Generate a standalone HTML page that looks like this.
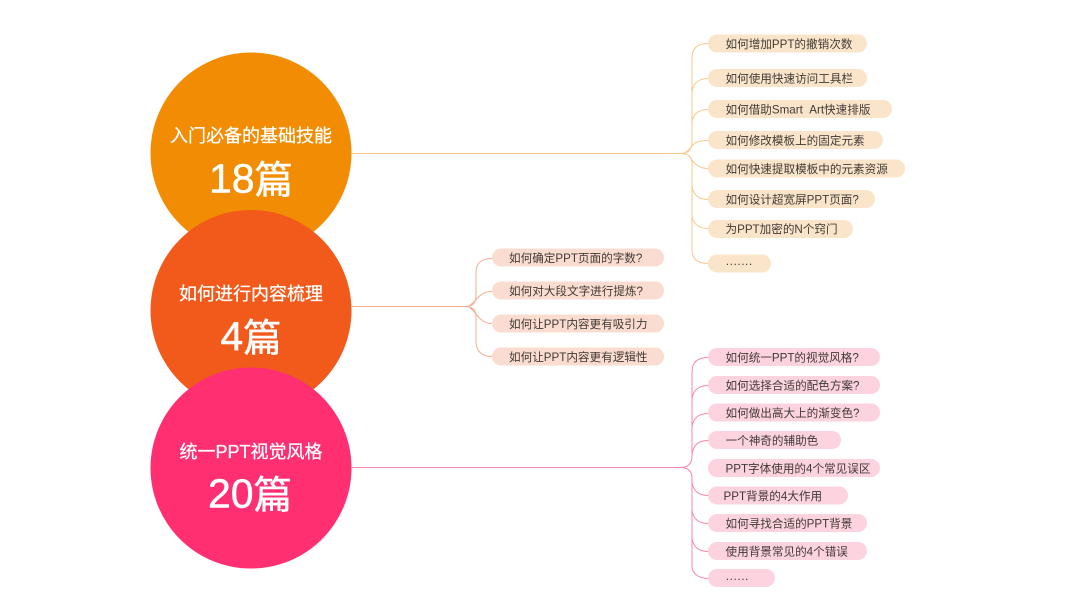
<!DOCTYPE html>
<html lang="zh">
<head>
<meta charset="utf-8">
<style>
html,body{margin:0;padding:0;background:#fff;}
svg{display:block;}
text{font-family:"Liberation Sans","Noto Sans CJK SC",sans-serif;}
.l{font-size:11.6px;fill:#403a35;}
.h{font-size:18px;fill:#fff;text-anchor:middle;stroke:#fff;stroke-width:.25px;}
.n{font-size:41px;fill:#fff;text-anchor:middle;stroke:#fff;stroke-width:.5px;}
.n tspan{font-size:38.500px;}
</style>
</head>
<body>
<svg width="1080" height="607" viewBox="0 0 1080 607" xmlns="http://www.w3.org/2000/svg">
<rect width="1080" height="607" fill="#fff"/>

<g fill="none" stroke="#f6c98a" stroke-width="1">
<path d="M352 153.500H680C688 153.500 692 150 692 142V58C692 48 698 43.500 708 43.500"/>
<path d="M692 92C693 83 699 78.500 708 78.500"/>
<path d="M692 122C693 114 699 109.500 708 109.500"/>
<path d="M683 153.500C690 151 691 146 695 143C699 141 703 140.500 708 140.500"/>
<path d="M680 153.500C688 153.500 692 157 692 163V250C692 259 698 263.500 708 263.500"/>
<path d="M689 155.500C692 160 696 168.500 708 168.500"/>
<path d="M692 186C693 195 699 199.500 708 199.500"/>
<path d="M692 216C693 224 699 228.500 708 228.500"/>
</g>
<g fill="none" stroke="#f2ac90" stroke-width="1">
<path d="M352 306.500H465C472 306.500 476 303 476 296V272C476 263 482 258.500 492 258.500"/>
<path d="M470 305C476 302 479 291.500 492 291.500"/>
<path d="M465 306.500C472 306.500 476 310 476 316V342C476 351 482 356.500 492 356.500"/>
<path d="M470 308C476 311 479 323.500 492 323.500"/>
</g>
<g fill="none" stroke="#f787ae" stroke-width="1">
<path d="M352 467.500H680C688 467.500 692 464 692 456V372C692 362 698 357.500 708 357.500"/>
<path d="M692 399C693 390 699 385.500 708 385.500"/>
<path d="M692 427C693 418 699 413.500 708 413.500"/>
<path d="M692 455C693 445 699 440.500 708 440.500"/>
<path d="M680 467.500C688 467.500 692 471 692 478V566C692 573 698 578.500 708 578.500"/>
<path d="M692 482C693 491 699 495.500 708 495.500"/>
<path d="M692 510C693 519 699 523.500 708 523.500"/>
<path d="M692 538C693 547 699 551.500 708 551.500"/>
</g>

<circle cx="251" cy="153" r="100.500" fill="#f28c02"/>
<circle cx="251" cy="310.500" r="100.500" fill="#f25a1c"/>
<circle cx="251" cy="468" r="100.500" fill="#ff2f72"/>

<text class="h" x="251" y="142">入门必备的基础技能</text>
<text class="n" x="251" y="192.500">18<tspan dy="1">篇</tspan></text>
<text class="h" x="251" y="300">如何进行内容梳理</text>
<text class="n" x="251" y="350.500">4<tspan dy="1">篇</tspan></text>
<text class="h" x="251" y="458">统一PPT视觉风格</text>
<text class="n" x="250" y="507.500">20<tspan dy="1">篇</tspan></text>

<g fill="#fbe5ca">
<rect x="708" y="34.500" width="159" height="18" rx="9"/>
<rect x="708" y="69" width="159" height="18" rx="9"/>
<rect x="708" y="100" width="184" height="18" rx="9"/>
<rect x="708" y="131" width="175" height="18" rx="9"/>
<rect x="708" y="159.500" width="197" height="18" rx="9"/>
<rect x="708" y="190" width="167" height="18" rx="9"/>
<rect x="708" y="220" width="145" height="18" rx="9"/>
<rect x="708" y="254.500" width="63" height="18" rx="9"/>
</g>
<g fill="#fbdcd0">
<rect x="492" y="248.500" width="172" height="18" rx="9"/>
<rect x="492" y="281.500" width="172" height="18" rx="9"/>
<rect x="492" y="314.500" width="172" height="18" rx="9"/>
<rect x="492" y="347.500" width="172" height="18" rx="9"/>
</g>
<g fill="#fdd3e0">
<rect x="708" y="348" width="172" height="18" rx="9"/>
<rect x="708" y="376" width="172" height="18" rx="9"/>
<rect x="708" y="403.500" width="172" height="18" rx="9"/>
<rect x="708" y="431" width="133" height="18" rx="9"/>
<rect x="708" y="459" width="172" height="18" rx="9"/>
<rect x="708" y="486.500" width="140" height="18" rx="9"/>
<rect x="708" y="514" width="159" height="18" rx="9"/>
<rect x="708" y="542" width="159" height="18" rx="9"/>
<rect x="708" y="569" width="67" height="18" rx="9"/>
</g>

<text class="l" x="725.500" y="48">如何增加PPT的撤销次数</text>
<text class="l" x="725.500" y="82.500">如何使用快速访问工具栏</text>
<text class="l" x="725.500" y="113.500">如何借助Smart&#160;&#160;Art快速排版</text>
<text class="l" x="725.500" y="144.500">如何修改模板上的固定元素</text>
<text class="l" x="725.500" y="173">如何快速提取模板中的元素资源</text>
<text class="l" x="725.500" y="203.500">如何设计超宽屏PPT页面?</text>
<text class="l" x="725.500" y="233">为PPT加密的N个窍门</text>
<text class="l" x="725.500" y="267.500">·······</text>

<text class="l" x="509" y="262">如何确定PPT页面的字数?</text>
<text class="l" x="509" y="295">如何对大段文字进行提炼?</text>
<text class="l" x="509" y="328">如何让PPT内容更有吸引力</text>
<text class="l" x="509" y="361">如何让PPT内容更有逻辑性</text>

<text class="l" x="725.500" y="361.500">如何统一PPT的视觉风格?</text>
<text class="l" x="725.500" y="389.500">如何选择合适的配色方案?</text>
<text class="l" x="725.500" y="417">如何做出高大上的渐变色?</text>
<text class="l" x="725.500" y="444.500">一个神奇的辅助色</text>
<text class="l" x="725.500" y="472.500">PPT字体使用的4个常见误区</text>
<text class="l" x="723.500" y="500">PPT背景的4大作用</text>
<text class="l" x="725.500" y="527.500">如何寻找合适的PPT背景</text>
<text class="l" x="725.500" y="555.500">使用背景常见的4个错误</text>
<text class="l" x="725.500" y="582.500">······</text>
</svg>
</body>
</html>
